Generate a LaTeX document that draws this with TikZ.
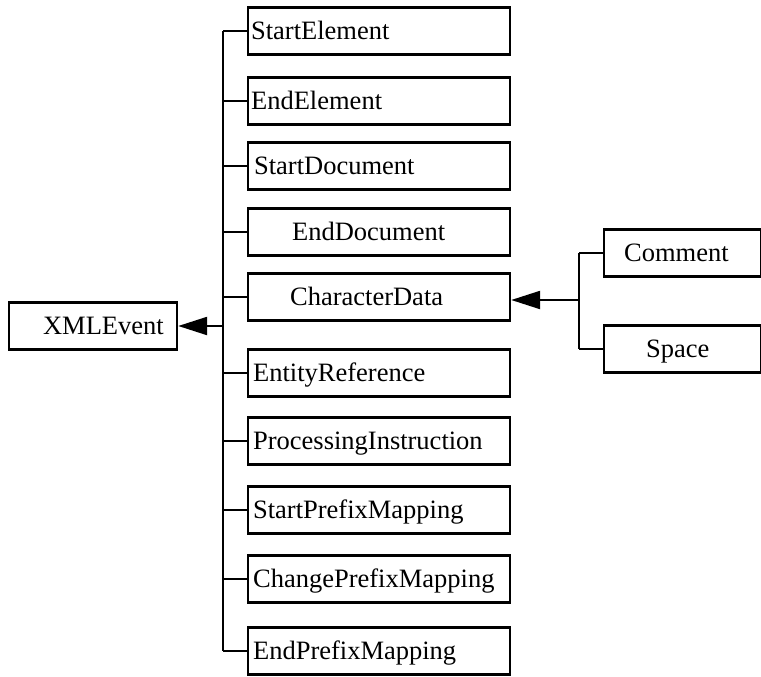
\documentclass[tikz,border=0pt]{standalone}
\usepackage{fontspec}
\setmainfont{Liberation Serif}
\usetikzlibrary{arrows.meta}
\begin{document}
\begin{tikzpicture}[x=1pt,y=-1pt,font=\fontsize{26.5}{30}\selectfont]
        \tikzstyle{event}=[draw,line width=2.2pt,anchor=west,inner xsep=0pt,minimum height=47pt,text height=17pt,text depth=0pt,text width=262pt,align=left]
        \tikzstyle{edge}=[draw,line width=2.2pt]
        \tikzstyle{inherit}=[edge,-{Triangle[length=29pt,width=18pt]}]
        \useasboundingbox (0,0) rectangle (761,677);
       \begin{scope}
         \node [event,text width=168pt] (xmlevent) at (8,326) {\hspace*{34pt}XMLEvent};

         \node [event] (startelement) at (247,31) {\hspace*{3pt}StartElement};
         \node [event] (endelement) at (247,101) {\hspace*{3pt}EndElement};
         \node [event] (startdocument) at (247,166) {\hspace*{6pt}StartDocument};
         \node [event] (enddocument) at (247,232) {\hspace*{44pt}EndDocument};
         \node [event] (characterdata) at (247,297) {\hspace*{42pt}CharacterData};
         \node [event] (entityreference) at (247,373) {\hspace*{5pt}EntityReference};
         \node [event] (processinginstruction) at (247,441) {\hspace*{5pt}ProcessingInstruction};
         \node [event] (startprefixmapping) at (247,510) {\hspace*{5pt}StartPrefixMapping};
         \node [event] (changeprefixmapping) at (247,579) {\hspace*{5pt}ChangePrefixMapping};
         \node [event] (endprefixmapping) at (247,651) {\hspace*{5pt}EndPrefixMapping};

         \node [event,text width=157pt] (comment) at (603,253) {\hspace*{20pt}Comment};
         \node [event,text width=157pt] (space) at (603,349) {\hspace*{42pt}Space};

         \coordinate (trunk) at (223,0);
         \coordinate (subtrunk) at (579,0);

         \path[edge] (startelement.west -| trunk) -- (endprefixmapping.west -| trunk);
         \foreach \e in {startelement,endelement,startdocument,enddocument,characterdata,
                         entityreference,processinginstruction,startprefixmapping,
                         changeprefixmapping,endprefixmapping}
           \path[edge] (\e.west -| trunk) -- (\e.west);
         \path[inherit] (xmlevent.east -| trunk) -- (xmlevent.east);

         \path[edge] (comment.west -| subtrunk) -- (space.west -| subtrunk);
         \path[edge] (comment.west -| subtrunk) -- (comment.west);
         \path[edge] (space.west -| subtrunk) -- (space.west);
         \path[inherit] ([yshift=-3pt]characterdata.east -| subtrunk) -- ([yshift=-3pt]characterdata.east);
        \end{scope}
      \end{tikzpicture}
\end{document}
